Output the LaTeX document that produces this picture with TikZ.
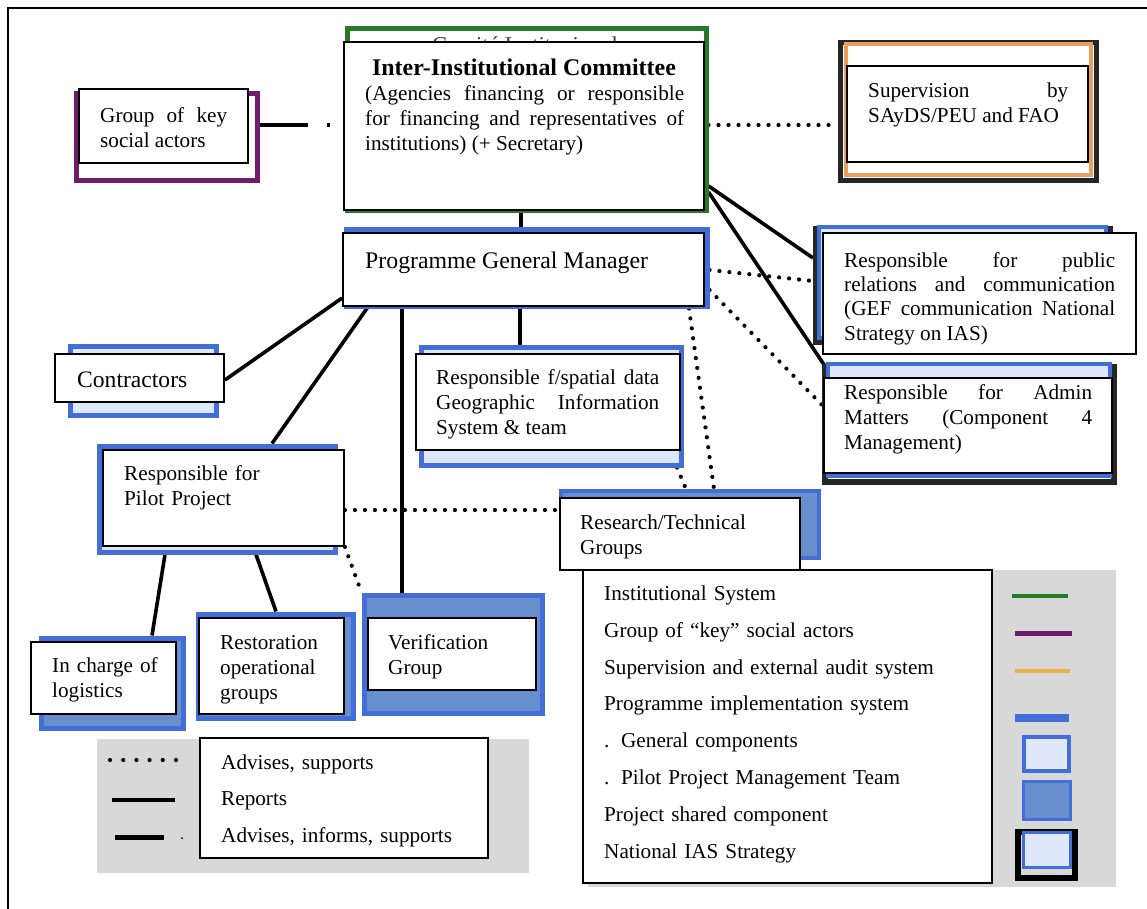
\documentclass[tikz,border=0pt]{standalone}
\usepackage{fontspec}
\setmainfont{Liberation Serif}
\usetikzlibrary{fit,calc}
\pgfdeclarelayer{bg}
\pgfsetlayers{bg,main}
\setlength{\parindent}{0pt}
\hyphenpenalty=10000
\tolerance=10000
\hbadness=10000
\definecolor{pblue}{RGB}{68,110,215}
\definecolor{lfill}{RGB}{222,232,250}
\definecolor{mfill}{RGB}{104,143,205}
\definecolor{cgreen}{RGB}{38,122,38}
\definecolor{cpurple}{RGB}{112,28,108}
\definecolor{corange}{RGB}{232,160,95}
\definecolor{lorange}{RGB}{236,176,70}
\definecolor{lgray}{RGB}{216,216,216}
\begin{document}
\begin{tikzpicture}[x=1pt,y=-1pt,
 wbox/.style={draw=black,line width=1.8pt,fill=white,inner sep=0pt},
 bframe/.style={draw=pblue,line width=5pt,fill=lfill,inner sep=0pt},
 dframe/.style={draw=pblue,line width=5pt,fill=mfill,inner sep=0pt},
 kframe/.style={draw=black!85,line width=6pt,inner sep=0pt},
 gframe/.style={fill=lgray,inner sep=0pt},
 txt/.style={inner sep=0pt,anchor=north west,font=\fontsize{21.2}{25}\selectfont},
 jtxt/.style={txt,align=justify},
 ltxt/.style={txt,align=left},
 solidc/.style={draw=black,line width=3.6pt},
 dotc/.style={draw=black,line width=4.2pt,line cap=round,dash pattern=on 0pt off 10pt},
 dashdotc/.style={draw=black,line width=4pt,dash pattern=on 48pt off 19pt on 3pt off 200pt},
]
\useasboundingbox (0,0) rectangle (1147,909);

% outer frame
\coordinate (fTL) at (8,8);
\coordinate (fTR) at (1147,8);
\coordinate (fBL) at (8,909);
\draw[line width=2pt] (fBL) -- (fTL) -- (fTR);

% Group of key social actors
\node[draw=cpurple,line width=5pt,fill=white,inner sep=0pt,fit={(76,94)(257,181)}] (grpF) {};
\node[wbox,fit={(79,89)(248,163)}] (grpW) {};
\node[jtxt,text width=127pt] (grpT) at (100,104.5) {\strut Group of key\linebreak social actors};

% Inter-Institutional Committee
\node[draw=cgreen,line width=5pt,fill=white,inner sep=0pt,fit={(347,29)(706,211)}] (comF) {};
\node[inner sep=0pt,anchor=base,text=black!75,font=\fontsize{22.7}{27}\selectfont] (comHid) at (525,53) {Comité Institucional};
\node[wbox,fit={(344,42)(704,210)}] (comW) {};
\node[inner sep=0pt,anchor=base,font=\fontsize{23.9}{28}\selectfont\bfseries] (comTitle) at (524,76) {Inter-Institutional Committee};
\node[jtxt,text width=319pt] (comT) at (365,82.5) {\strut(Agencies financing or responsible\linebreak for financing and representatives of\linebreak institutions) (+ Secretary)};

% Supervision
\node[kframe,line width=5pt,fit={(840,43)(1096,181)}] (supK) {};
\node[draw=corange,line width=4pt,fill=white,inner sep=0pt,fit={(846,44)(1091,175)}] (supF) {};
\node[wbox,fit={(847,66)(1088,162)}] (supW) {};
\node[jtxt,text width=200pt] (supT) at (868,79.5) {\strut Supervision by\linebreak SAyDS/PEU and FAO};

% Programme General Manager
\node[bframe,fit={(346,230)(707,306)}] (pgmF) {};
\node[wbox,fit={(343,233)(704,306)}] (pgmW) {};
\node[txt,font=\fontsize{23.8}{28}\selectfont] (pgmT) at (365,248.4) {\strut Programme General Manager};

% Contractors
\node[bframe,fit={(70,346)(216,415)}] (conF) {};
\node[wbox,fit={(55,354)(224,402)}] (conW) {};
\node[txt,font=\fontsize{23.6}{28}\selectfont] (conT) at (77,367.4) {\strut Contractors};

% GIS
\node[bframe,fit={(421,347)(681,465)}] (gisF) {};
\node[wbox,fit={(416,354)(680,450)}] (gisW) {};
\node[jtxt,text width=223pt] (gisT) at (436,366.5) {\strut Responsible f/spatial data\linebreak Geographic Information\linebreak System \& team};

% Public relations
\node[kframe,fit={(816,229)(1110,342)}] (prK) {};
\node[draw=pblue,line width=3.5pt,fill=lfill,inner sep=0pt,fit={(819,227)(1106,338)}] (prF) {};
\node[wbox,fit={(823,233)(1136,354)}] (prW) {};
\node[jtxt,text width=271pt,font=\fontsize{21.2}{24.3}\selectfont] (prT) at (844,250) {\strut Responsible for public\linebreak relations and communication\linebreak (GEF communication National\linebreak Strategy on IAS)};

% Admin matters
\node[kframe,fit={(825,367)(1114,482)}] (admK) {};
\node[draw=pblue,line width=3.5pt,fill=lfill,inner sep=0pt,fit={(828,364)(1110,476)}] (admF) {};
\node[wbox,fit={(824,378)(1112,473)}] (admW) {};
\node[jtxt,text width=248pt] (admT) at (844,381.5) {\strut Responsible for Admin\linebreak Matters (Component 4\linebreak Management)};

% Pilot project
\node[bframe,fit={(99,446)(335,552)}] (pilF) {};
\node[wbox,fit={(103,450)(344,546)}] (pilW) {};
\node[ltxt,text width=200pt] (pilT) at (124,462.5) {\strut Responsible for\\Pilot Project};

% Research / Technical
\node[dframe,line width=4pt,fit={(561,491)(819,558)}] (resF) {};
\node[wbox,fit={(560,498)(800,570)}] (resW) {};
\node[ltxt,text width=215pt] (resT) at (580,511.5) {\strut Research/Technical\\Groups};

% Verification
\node[dframe,fit={(364,595)(542,713)}] (verF) {};
\node[wbox,fit={(368,618)(536,690)}] (verW) {};
\node[ltxt,text width=140pt] (verT) at (388,631.5) {\strut Verification\\Group};

% Restoration
\node[dframe,fit={(198,614)(353,718)}] (resoF) {};
\node[wbox,fit={(199,618)(344,714)}] (resoW) {};
\node[ltxt,text width=120pt] (resoT) at (220,631.5) {\strut Restoration\\operational\\groups};

% Logistics
\node[dframe,fit={(41,638)(183,728)}] (logF) {};
\node[wbox,fit={(31,642)(176,714)}] (logW) {};
\node[ltxt,text width=120pt] (logT) at (52,654.5) {\strut In charge of\\logistics};

% Legend bottom left
\node[gframe,fit={(97,739)(529,873)}] (lgaG) {};
\node[wbox,fit={(200,738)(488,858)}] (lgaW) {};
\node[ltxt,text width=260pt,font=\fontsize{21.2}{36.8}\selectfont] (lgaT) at (221,743.2) {\strut Advises, supports\\Reports\\Advises, informs, supports};
\draw[black,line width=4.2pt,line cap=round,dash pattern=on 0pt off 13.2pt] (110,760) -- (177,760);
\draw[black,line width=4.5pt] (112,800) -- (175,800);
\draw[black,line width=5pt] (115,837) -- (164,837);
\fill[black] (182,838) circle (1pt);

% Legend bottom right
\node[gframe,fit={(588,570)(1116,887)}] (lgbG) {};
\node[wbox,fit={(583,570)(992,883)}] (lgbW) {};
\node[ltxt,text width=380pt,font=\fontsize{21.2}{36.9}\selectfont] (lgbT) at (604,574.2) {\strut Institutional System\\Group of “key” social actors\\Supervision and external audit system\\Programme implementation system\\.\hspace{11.7pt}General components\\.\hspace{11.7pt}Pilot Project Management Team\\Project shared component\\National IAS Strategy};
\draw[cgreen,line width=4pt] (1012,596) -- (1068,596);
\draw[cpurple,line width=5pt] (1015,633) -- (1072,633);
\draw[lorange,line width=4pt] (1015,671) -- (1070,671);
\draw[pblue,line width=8pt] (1015,718) -- (1069,718);
\draw[pblue,line width=4pt,fill=lfill] (1024,737) rectangle (1069,771);
\draw[pblue,line width=3pt,fill=mfill] (1023,781) rectangle (1070,819);
\draw[black,line width=6pt] (1018,832) rectangle (1075,878);
\draw[pblue,line width=3pt,fill=lfill] (1023,832) rectangle (1070,867);

% connectors
\begin{pgfonlayer}{bg}
\draw[dashdotc] (grpF.east |- 0,125) -- (comF.west |- 0,125);
\draw[dotc] (comF.east |- 0,125) -- (supK.west |- 0,125);
\draw[solidc] (comF.south -| 521,0) -- (pgmF.north -| 521,0);
\draw[solidc] (comF.east |- 0,186) -- (prK.west |- 0,258);
\draw[solidc] (comF.east |- 0,192) -- (admF.west |- 0,368);
\draw[dotc] (pgmF.east |- 0,270) -- (prK.west |- 0,281);
\draw[dotc] (pgmF.east |- 0,290) -- (admK.west |- 0,405);
\draw[solidc] (pgmW.west |- 0,298) -- (conW.east |- 0,380);
\draw[solidc] (pgmW.south -| 368,0) -- (pilF.north -| 272,0);
\draw[solidc] (pgmW.south -| 402,0) -- (verF.north -| 402,0);
\draw[solidc] (pgmW.south -| 520,0) -- (gisF.north -| 520,0);
\draw[dotc] (pgmF.south -| 689,0) -- (resF.north -| 714,0);
\draw[dotc] (gisF.south -| 677,0) -- (resF.north -| 686,0);
\draw[dotc] (pilW.east |- 0,510) -- (resW.west |- 0,510);
\draw[dotc] (pilW.south east) -- (verF.north west);
\draw[solidc] (pilF.south -| 165,0) -- (logF.north -| 152,0);
\draw[solidc] (pilF.south -| 256,0) -- (resoF.north -| 276,0);
\end{pgfonlayer}
\end{tikzpicture}
\end{document}
